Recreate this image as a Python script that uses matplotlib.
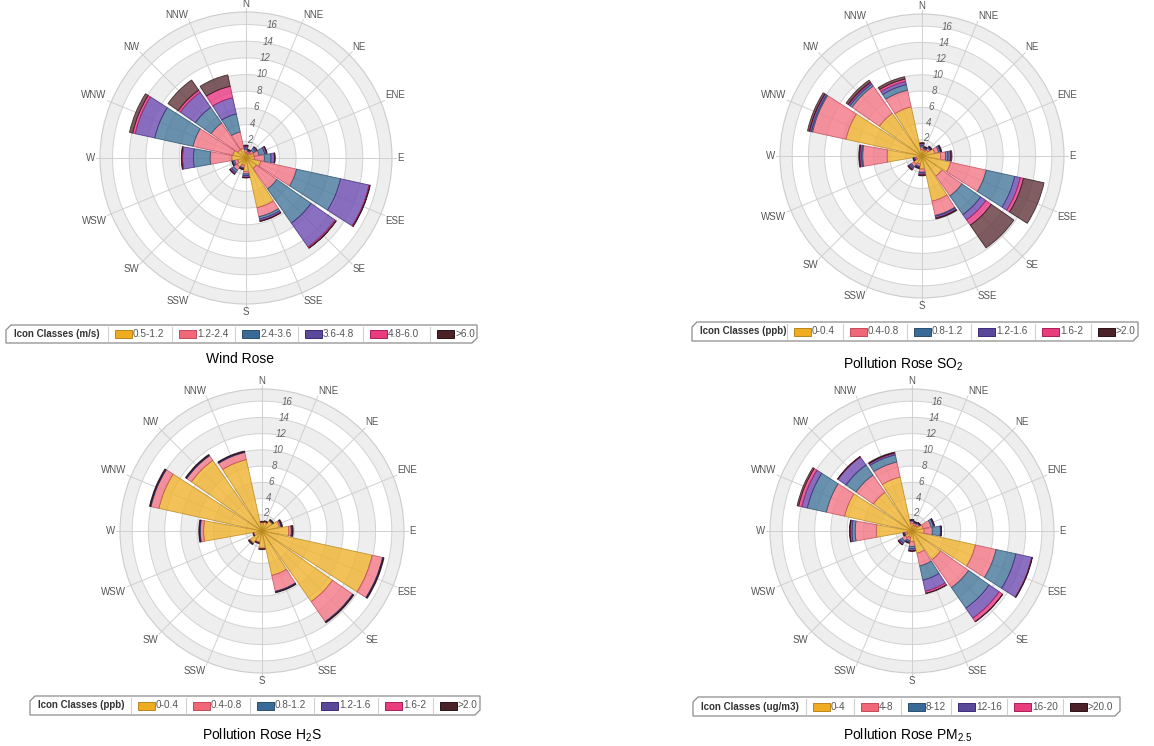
import numpy as np
import matplotlib
matplotlib.use("Agg")
import matplotlib.pyplot as plt
from matplotlib.patches import Polygon, Rectangle

plt.rcParams["font.family"] = ["Liberation Sans", "DejaVu Sans"]
plt.rcParams["mathtext.fontset"] = "custom"
plt.rcParams["mathtext.rm"] = "Liberation Sans"
plt.rcParams["mathtext.it"] = "Liberation Sans:italic"
plt.rcParams["mathtext.bf"] = "Liberation Sans:bold"

W, H = 1154, 746

directions = ["N", "NNE", "NE", "ENE", "E", "ESE", "SE", "SSE",
              "S", "SSW", "SW", "WSW", "W", "WNW", "NW", "NNW"]
ring_ticks = [2, 4, 6, 8, 10, 12, 14, 16]

# Wind rose, frequency (%) per direction for each speed class (m/s)
wind_classes = ["0.5-1.2", "1.2-2.4", "2.4-3.6", "3.6-4.8", "4.8-6.0", ">6.0"]
wind_c1 = [0.6, 0.5, 0.7, 1.0, 1.0, 1.8, 1.5, 6.1, 1.6, 0.9, 1.3, 1.0, 1.7, 1.6, 1.2, 1.2]
wind_c2 = [0.4, 0.3, 0.4, 0.6, 1.2, 4.4, 3.0, 1.1, 0.3, 0.3, 0.5, 0.4, 2.6, 4.9, 3.9, 2.0]
wind_c3 = [0.2, 0.1, 0.3, 0.7, 0.8, 5.4, 5.0, 0.3, 0.2, 0.1, 0.3, 0.2, 2.0, 4.7, 2.3, 2.2]
wind_c4 = [0.2, 0.1, 0.2, 0.2, 0.4, 3.5, 3.5, 0.2, 0.2, 0.1, 0.2, 0.1, 1.3, 2.4, 2.2, 2.0]
wind_c5 = [0.05, 0.0, 0.0, 0.05, 0.05, 0.1, 0.15, 0.05, 0.05, 0.0, 0.05, 0.0, 0.1, 0.3, 0.3, 1.4]
wind_c6 = [0.1, 0.05, 0.05, 0.05, 0.05, 0.05, 0.05, 0.05, 0.05, 0.05, 0.05, 0.05, 0.05, 0.4, 1.5, 1.4]

# SO2 pollution rose (ppb classes)
so2_classes = ["0-0.4", "0.4-0.8", "0.8-1.2", "1.2-1.6", "1.6-2", ">2.0"]
so2_c1 = [0.8, 0.7, 0.9, 1.6, 2.3, 3.6, 3.0, 5.7, 1.6, 1.0, 1.2, 0.7, 4.3, 9.6, 6.4, 6.2]
so2_c2 = [0.3, 0.2, 0.3, 0.5, 0.6, 4.5, 3.0, 1.8, 0.4, 0.3, 0.4, 0.2, 3.0, 4.2, 4.1, 2.1]
so2_c3 = [0.2, 0.1, 0.1, 0.2, 0.3, 3.6, 2.8, 0.1, 0.1, 0.1, 0.2, 0.1, 0.15, 0.15, 0.3, 0.7]
so2_c4 = [0.2, 0.1, 0.1, 0.1, 0.3, 0.7, 0.8, 0.2, 0.2, 0.1, 0.2, 0.1, 0.2, 0.2, 0.2, 0.4]
so2_c5 = [0.05, 0.0, 0.0, 0.0, 0.05, 0.4, 0.8, 0.05, 0.05, 0.0, 0.05, 0.0, 0.05, 0.05, 0.1, 0.3]
so2_c6 = [0.1, 0.1, 0.1, 0.1, 0.15, 2.6, 3.4, 0.1, 0.1, 0.1, 0.1, 0.05, 0.1, 0.25, 0.3, 0.3]

# H2S pollution rose (ppb classes)
h2s_classes = ["0-0.4", "0.4-0.8", "0.8-1.2", "1.2-1.6", "1.6-2", ">2.0"]
h2s_c1 = [1.0, 1.1, 1.5, 2.2, 3.3, 13.9, 10.6, 5.6, 2.1, 1.4, 1.8, 1.0, 7.2, 13.0, 10.6, 9.0]
h2s_c2 = [0.1, 0.1, 0.1, 0.2, 0.3, 1.3, 3.0, 2.0, 0.1, 0.1, 0.1, 0.1, 0.4, 1.0, 0.7, 0.9]
h2s_c3 = [0.0, 0.0, 0.05, 0.05, 0.05, 0.05, 0.05, 0.05, 0.0, 0.0, 0.05, 0.0, 0.05, 0.05, 0.05, 0.05]
h2s_c4 = [0.0, 0.0, 0.0, 0.05, 0.1, 0.05, 0.05, 0.05, 0.0, 0.0, 0.0, 0.0, 0.05, 0.05, 0.05, 0.05]
h2s_c5 = [0.0] * 16
h2s_c6 = [0.1, 0.1, 0.1, 0.1, 0.1, 0.1, 0.1, 0.1, 0.1, 0.1, 0.1, 0.05, 0.1, 0.1, 0.1, 0.1]

# PM2.5 pollution rose (ug/m3 classes)
pm25_classes = ["0-4", "4-8", "8-12", "12-16", "16-20", ">20.0"]
pm25_c1 = [0.9, 0.7, 0.8, 1.4, 1.5, 8.0, 4.3, 2.8, 1.3, 0.8, 1.0, 0.6, 4.4, 8.5, 5.8, 6.8]
pm25_c2 = [0.3, 0.3, 0.3, 1.0, 1.0, 2.6, 4.2, 1.6, 0.6, 0.4, 0.5, 0.3, 2.6, 2.3, 2.6, 1.9]
pm25_c3 = [0.1, 0.1, 0.1, 0.3, 1.0, 2.5, 3.1, 1.8, 0.3, 0.2, 0.3, 0.1, 0.4, 2.4, 1.5, 0.9]
pm25_c4 = [0.05, 0.05, 0.05, 0.1, 0.1, 2.0, 1.5, 1.4, 0.2, 0.1, 0.2, 0.1, 0.2, 0.7, 1.2, 0.2]
pm25_c5 = [0.0, 0.0, 0.0, 0.0, 0.0, 0.05, 0.5, 0.25, 0.05, 0.0, 0.05, 0.0, 0.05, 0.4, 0.05, 0.05]
pm25_c6 = [0.05, 0.05, 0.05, 0.05, 0.05, 0.05, 0.05, 0.05, 0.05, 0.05, 0.05, 0.05, 0.05, 0.2, 0.05, 0.1]

class_colors = ["#f0b432", "#f47a88", "#4a7a9c", "#7250b4", "#ec3e88", "#643a40"]
class_edges = ["#b8861c", "#c04a5a", "#2a4e6c", "#3e2a7a", "#a81e5a", "#2a1216"]
swatch_colors = ["#f0ac20", "#f06878", "#3a6a98", "#5a4898", "#e83c7c", "#4a2228"]

RMAX = 17.5

fig = plt.figure(figsize=(W / 100, H / 100), dpi=100)
fig.patch.set_facecolor("white")


def draw_rose(cx, cy, R, series):
    ax = fig.add_axes([(cx - R) / W, 1 - (cy + R) / H, 2 * R / W, 2 * R / H],
                      projection="polar")
    ax.set_theta_zero_location("N")
    ax.set_theta_direction(-1)
    ax.set_ylim(0, RMAX)
    ax.set_xticks([])
    ax.set_yticks([])
    ax.grid(False)
    ax.spines["polar"].set_color("#cccccc")
    ax.spines["polar"].set_linewidth(0.8)

    # alternating background bands
    edges = [0] + ring_ticks + [RMAX]
    for i in range(len(edges) - 1):
        if i % 2 == 0:
            ax.bar(0, edges[i + 1] - edges[i], width=2 * np.pi, bottom=edges[i],
                   color="#eeeeee", edgecolor="none", zorder=0.5)
    circ = np.linspace(0, 2 * np.pi, 361)
    for v in ring_ticks:
        ax.plot(circ, np.full_like(circ, v), color="#d2d2d2", lw=0.7, zorder=1)

    theta = np.deg2rad(np.arange(len(directions)) * 22.5)
    for t in theta:
        ax.plot([t, t], [0, RMAX * (R + 4) / R], color="#d0d0d0", lw=0.7,
                zorder=1, clip_on=False)

    width = np.deg2rad(22.5) * 0.9
    bottom = np.zeros(len(directions))
    for vals, c, ec in zip(series, class_colors, class_edges):
        vals = np.asarray(vals, dtype=float)
        m = vals > 0
        ax.bar(theta[m], vals[m], width=width, bottom=bottom[m], color=c,
               alpha=0.82, edgecolor=ec, linewidth=0.6, zorder=3)
        bottom = bottom + vals

    for v in ring_ticks:
        ax.text(np.deg2rad(11), v + 0.2, str(v), fontsize=7, style="italic",
                color="#666666", ha="center", va="center", zorder=6)

    for t, name in zip(theta, directions):
        s, c = np.sin(t), np.cos(t)
        ha = "left" if s > 0.1 else ("right" if s < -0.1 else "center")
        va = "bottom" if c > 0.1 else ("top" if c < -0.1 else "center")
        pad = 3 + 2 * abs(s)
        ax.text(t, RMAX * (R + pad) / R, name, fontsize=7, color="#555555",
                ha=ha, va=va, clip_on=False, zorder=6)
    return ax


draw_rose(246, 158, 146, [wind_c1, wind_c2, wind_c3, wind_c4, wind_c5, wind_c6])
draw_rose(922, 156, 142, [so2_c1, so2_c2, so2_c3, so2_c4, so2_c5, so2_c6])
draw_rose(262, 531, 142, [h2s_c1, h2s_c2, h2s_c3, h2s_c4, h2s_c5, h2s_c6])
draw_rose(912, 531, 142, [pm25_c1, pm25_c2, pm25_c3, pm25_c4, pm25_c5, pm25_c6])

# overlay in pixel coordinates for legends and captions
ov = fig.add_axes([0, 0, 1, 1])
ov.set_xlim(0, W)
ov.set_ylim(H, 0)
ov.axis("off")


def draw_legend(x0, x1, y0, y1, header, labels, seps):
    k = 5
    shape = Polygon([(x0, y0 + k), (x0 + k, y0), (x1, y0), (x1, y1 - k),
                     (x1 - k, y1), (x0, y1)], closed=True, facecolor="white",
                    edgecolor="#8c8c8c", lw=0.9)
    ov.add_patch(shape)
    yc = (y0 + y1) / 2
    ov.text(x0 + 8, yc, header, fontsize=7, fontweight="bold",
            color="#333333", ha="left", va="center")
    for sx, lab, col, ec in zip(seps, labels, swatch_colors, class_edges):
        ov.plot([sx, sx], [y0 + 2, y1 - 2], color="#d0d0d0", lw=0.8)
        ov.add_patch(Rectangle((sx + 7, yc - 4), 17, 8, facecolor=col,
                               edgecolor=ec, lw=0.7))
        ov.text(sx + 25, yc, lab, fontsize=7.2, color="#555555",
                ha="left", va="center")


draw_legend(6, 477, 325, 343, "Icon Classes (m/s)", wind_classes,
            [108, 172, 235, 298, 363, 430])
draw_legend(692, 1138, 322, 341, "Icon Classes (ppb)", so2_classes,
            [787, 843, 907, 971, 1035, 1091])
draw_legend(30, 480, 696, 715, "Icon Classes (ppb)", h2s_classes,
            [131, 186, 250, 314, 378, 433])
draw_legend(693, 1120, 697, 716, "Icon Classes (ug/m3)", pm25_classes,
            [806, 854, 901, 951, 1007, 1063])

ov.text(240, 359, "Wind Rose", fontsize=10, ha="center", va="center")
ov.text(903, 364, "Pollution Rose SO$_2$", fontsize=10, ha="center", va="center")
ov.text(262, 735, "Pollution Rose H$_2$S", fontsize=10, ha="center", va="center")
ov.text(908, 735, "Pollution Rose PM$_{2.5}$", fontsize=10, ha="center", va="center")

fig.savefig("out.png", dpi=100, facecolor="white")
